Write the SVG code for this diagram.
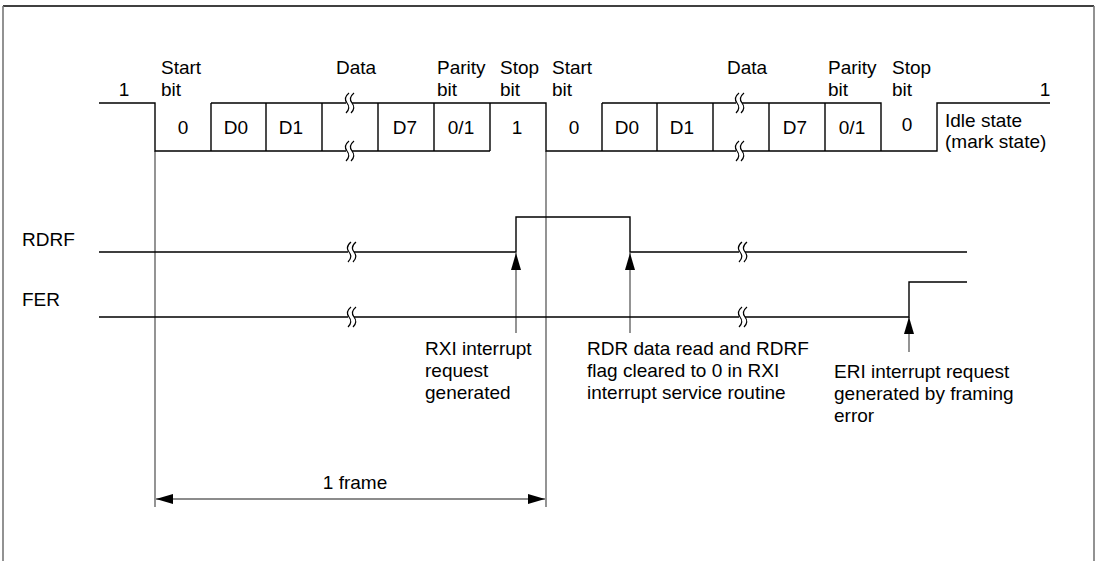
<svg xmlns="http://www.w3.org/2000/svg" width="1098" height="561" viewBox="0 0 1098 561">
<defs>
<style>
text{font-family:"Liberation Sans",Arial,sans-serif;font-size:19px;fill:#000}
.mid{text-anchor:middle}
.sig{fill:none;stroke:#000;stroke-width:1.4}
.guide{fill:none;stroke:#666;stroke-width:1.4}
.brk{fill:none;stroke:#000;stroke-width:1.2}
</style>
<marker id="ahL" viewBox="0 0 17 10" refX="17" refY="5" markerWidth="17" markerHeight="10" markerUnits="userSpaceOnUse" orient="auto-start-reverse">
<path d="M0,0 L17,5 L0,10 z" fill="#000"/>
</marker>
<g id="bm">
<rect x="-2" y="-9" width="6" height="18" fill="#fff"/>
<path class="brk" d="M1,-10 Q-5,-5 -1,0 Q3,5 -2,10"/>
<path class="brk" d="M6,-10 Q0,-5 4,0 Q8,5 3,10"/>
</g>
</defs>
<rect width="1098" height="561" fill="#fff"/>
<g id="frame">
<line x1="3" y1="6" x2="1094" y2="6" stroke="#000" stroke-width="1.4"/>
<line x1="3" y1="6" x2="3" y2="561" stroke="#777" stroke-width="1.6"/>
<line x1="1094" y1="6" x2="1094" y2="561" stroke="#777" stroke-width="1.6"/>
</g>
<g id="connectors">
<line class="guide" x1="155" y1="151" x2="155" y2="507"/>
<line class="guide" x1="546" y1="151" x2="546" y2="507"/>
<line class="guide" x1="156" y1="499" x2="545" y2="499" marker-start="url(#ahL)" marker-end="url(#ahL)"/>
<line class="guide" x1="516" y1="333" x2="516" y2="253" marker-end="url(#ahL)"/>
<line class="guide" x1="630" y1="333" x2="630" y2="253" marker-end="url(#ahL)"/>
<line class="guide" x1="909" y1="352" x2="909" y2="317" marker-end="url(#ahL)"/>
</g>
<g id="serial-data">
<path class="sig" d="M99,103 H155 V151 H490 M211,103 H546 V151 H881 M211,103 V151 M266,103 V151 M322,103 V151 M378,103 V151 M434,103 V151 M490,103 V151"/>
<path class="sig" d="M602,103 H881 V151 M602,103 V151 M657,103 V151 M713,103 V151 M769,103 V151 M825,103 V151 M881,151 H937 V103 H1050"/>
<use href="#bm" x="348" y="103"/>
<use href="#bm" x="348" y="151"/>
<use href="#bm" x="738" y="103"/>
<use href="#bm" x="738" y="151"/>
<text class="mid" x="124" y="96">1</text>
<text x="161" y="74">Start</text><text x="161" y="96">bit</text>
<text x="336" y="74">Data</text>
<text x="437" y="74">Parity</text><text x="437" y="96">bit</text>
<text x="500" y="74">Stop</text><text x="500" y="96">bit</text>
<text x="552" y="74">Start</text><text x="552" y="96">bit</text>
<text x="727" y="74">Data</text>
<text x="828" y="74">Parity</text><text x="828" y="96">bit</text>
<text x="892" y="74">Stop</text><text x="892" y="96">bit</text>
<text class="mid" x="1045" y="96">1</text>
<text class="mid" x="183" y="134">0</text>
<text class="mid" x="236" y="134">D0</text>
<text class="mid" x="291" y="134">D1</text>
<text class="mid" x="405" y="134">D7</text>
<text class="mid" x="461" y="134">0/1</text>
<text class="mid" x="517" y="134">1</text>
<text class="mid" x="574" y="134">0</text>
<text class="mid" x="627" y="134">D0</text>
<text class="mid" x="682" y="134">D1</text>
<text class="mid" x="795" y="134">D7</text>
<text class="mid" x="852" y="134">0/1</text>
<text class="mid" x="907" y="131">0</text>
<text x="945" y="127">Idle state</text>
<text x="945" y="148">(mark state)</text>
</g>
<g id="rdrf">
<text x="22" y="246">RDRF</text>
<path class="sig" d="M99,252 H516 V217 H630 V252 H967"/>
<use href="#bm" x="350" y="252"/>
<use href="#bm" x="741" y="252"/>
</g>
<g id="fer">
<text x="22" y="306">FER</text>
<path class="sig" d="M99,317 H909 V282 H967"/>
<use href="#bm" x="350" y="317"/>
<use href="#bm" x="741" y="317"/>
</g>
<g id="label-rxi">
<text x="425" y="355">RXI interrupt</text>
<text x="425" y="377">request</text>
<text x="425" y="399">generated</text>
</g>
<g id="label-rdr">
<text x="587" y="355">RDR data read and RDRF</text>
<text x="587" y="377">flag cleared to 0 in RXI</text>
<text x="587" y="399">interrupt service routine</text>
</g>
<g id="label-eri">
<text x="834" y="378">ERI interrupt request</text>
<text x="834" y="400">generated by framing</text>
<text x="834" y="422">error</text>
</g>
<g id="label-frame">
<text class="mid" x="355" y="489">1 frame</text>
</g>
</svg>
